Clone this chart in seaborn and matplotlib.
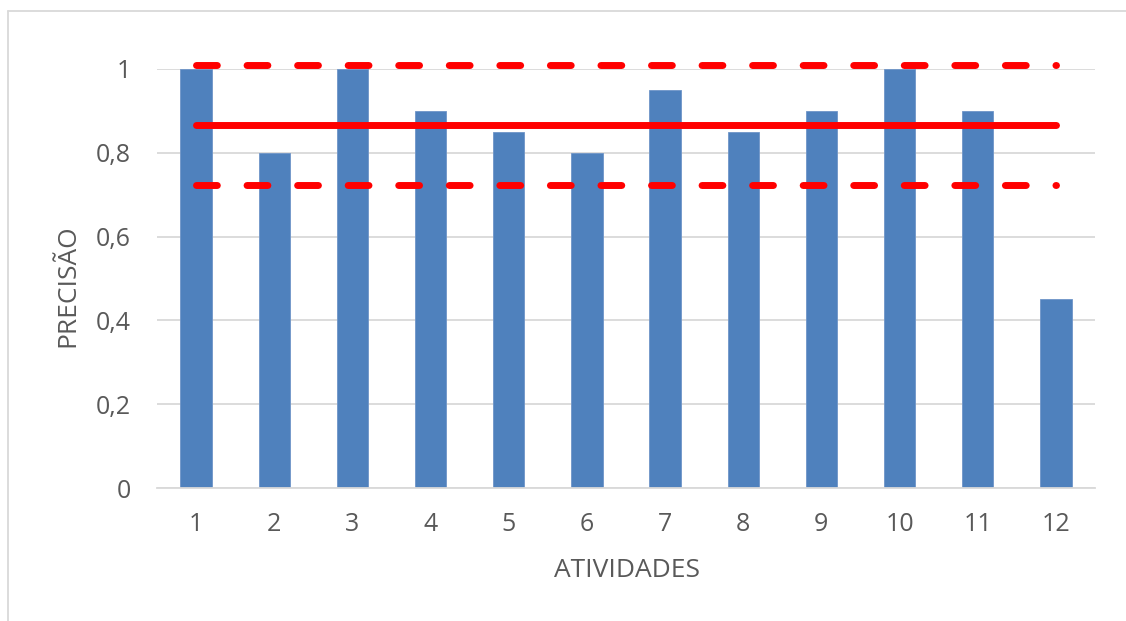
import numpy as np
import pandas as pd
import matplotlib
matplotlib.use("Agg")
import matplotlib.pyplot as plt
from matplotlib.lines import Line2D
import seaborn as sns

# Data
atividades = ["1", "2", "3", "4", "5", "6", "7", "8", "9", "10", "11", "12"]
precisao = [1.0, 0.8, 1.0, 0.9, 0.85, 0.8, 0.95, 0.85, 0.9, 1.0, 0.9, 0.45]
y_ticks = [0, 0.2, 0.4, 0.6, 0.8, 1.0]
y_tick_labels = ["0", "0,2", "0,4", "0,6", "0,8", "1"]

media = float(np.mean(precisao))
desvio = float(np.std(precisao))
limite_sup = media + desvio
limite_inf = media - desvio

df = pd.DataFrame({"ATIVIDADES": atividades, "PRECISÃO": precisao})
df_lines = pd.DataFrame({
    "ATIVIDADES": atividades,
    "media": [media] * len(atividades),
    "sup": [limite_sup] * len(atividades),
    "inf": [limite_inf] * len(atividades),
})

sns.set_theme(style="white")
plt.rcParams["font.family"] = ["Open Sans", "DejaVu Sans"]

W, H = 1126, 621
fig = plt.figure(figsize=(W / 100, H / 100), dpi=100)
fig.patch.set_facecolor("white")
ax = fig.add_axes([157 / W, (H - 488) / H, (1095 - 157) / W, (488 - 69) / H])

text_color = "#595959"
grid_color = "#d9d9d9"

sns.barplot(data=df, x="ATIVIDADES", y="PRECISÃO", color="#4f81bd",
            saturation=1, width=0.4, ax=ax, zorder=2,
            edgecolor="#6f95c8", linewidth=0.6)

red = "#ff0000"
sns.lineplot(data=df_lines, x="ATIVIDADES", y="media", color=red, lw=5,
             solid_capstyle="round", ax=ax, zorder=3, clip_on=False)
for col in ["sup", "inf"]:
    sns.lineplot(data=df_lines, x="ATIVIDADES", y=col, color=red, lw=5,
                 dashes=False, ax=ax, zorder=3, clip_on=False,
                 linestyle=(0, (3.0, 4.28)), dash_capstyle="round")

ax.set_xlim(-0.5, len(atividades) - 0.5)
ax.set_ylim(0, 1.0)
ax.set_yticks(y_ticks)
ax.set_yticklabels(y_tick_labels)
ax.yaxis.grid(True, color=grid_color, lw=1.3, zorder=0)
ax.set_axisbelow(True)
for s in ["top", "right", "left"]:
    ax.spines[s].set_visible(False)
ax.spines["bottom"].set_color(grid_color)
ax.spines["bottom"].set_linewidth(1.3)
ax.tick_params(axis="both", length=0, labelsize=18, colors=text_color)
ax.tick_params(axis="y", pad=19)
ax.tick_params(axis="x", pad=17.5)
ax.set_xlabel("ATIVIDADES", fontsize=19, color=text_color)
ax.set_ylabel("PRECISÃO", fontsize=19, color=text_color)
ax.xaxis.label.set_va("center")
ax.yaxis.label.set_va("center")
ax.xaxis.set_label_coords(0.501, -0.196)
ax.yaxis.set_label_coords(-0.095, 0.482)

# chart border (top and left)
fig.add_artist(Line2D([8 / W, 1.0], [1 - 11 / H, 1 - 11 / H], color=grid_color,
                      lw=1.3, transform=fig.transFigure))
fig.add_artist(Line2D([8 / W, 8 / W], [0, 1 - 11 / H], color=grid_color,
                      lw=1.3, transform=fig.transFigure))

fig.savefig("out.png", dpi=100, facecolor="white")
